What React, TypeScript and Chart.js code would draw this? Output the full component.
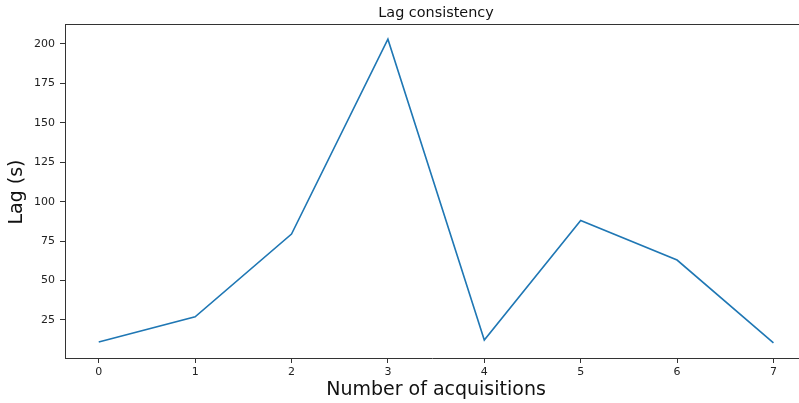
import React, { useEffect, useRef } from "react";
import { Chart, registerables } from "chart.js";

Chart.register(...registerables);

const acquisitions = [0, 1, 2, 3, 4, 5, 6, 7];
const lagSeconds = [11, 27, 79.5, 203, 12.3, 88, 63, 10.5];
const xTicks = [0, 1, 2, 3, 4, 5, 6, 7];
const yTicks = [25, 50, 75, 100, 125, 150, 175, 200];

const TITLE = "Lag consistency";
const X_LABEL = "Number of acquisitions";
const Y_LABEL = "Lag (s)";
const FONT = "'DejaVu Sans', sans-serif";

const textPlugin = {
  id: "mplText",
  afterDraw(chart: any) {
    const { ctx, chartArea } = chart;
    const { left, right, top, bottom } = chartArea;
    ctx.save();
    // keep the right side open like the cropped reference
    ctx.fillStyle = "#fff";
    ctx.fillRect(right - 12, top + 1, 12, bottom - top - 1);
    // top spine
    ctx.strokeStyle = "#333";
    ctx.lineWidth = 1;
    ctx.beginPath();
    ctx.moveTo(left, top + 0.5);
    ctx.lineTo(right, top + 0.5);
    ctx.stroke();

    ctx.fillStyle = "#111";
    ctx.textAlign = "center";
    ctx.textBaseline = "middle";
    ctx.font = `14.4px ${FONT}`;
    ctx.fillText(TITLE, 436, 13);

    ctx.font = `19px ${FONT}`;
    ctx.fillText(X_LABEL, 436, 390);

    ctx.translate(17, 192);
    ctx.rotate(-Math.PI / 2);
    ctx.fillText(Y_LABEL, 0, 0);
    ctx.restore();
  },
};

export default function App() {
  const ref = useRef<HTMLCanvasElement>(null);
  useEffect(() => {
    const canvas = ref.current!;
    const chart = new Chart(canvas, {
      type: "line",
      data: {
        datasets: [
          {
            data: acquisitions.map((x, i) => ({ x, y: lagSeconds[i] })),
            borderColor: "#1f77b4",
            borderWidth: 1.6,
            pointRadius: 0,
            fill: false,
            tension: 0,
          },
        ],
      },
      options: {
        animation: false,
        responsive: false,
        devicePixelRatio: 1,
        layout: { padding: { left: 0, top: 24, right: 0, bottom: 0 } },
        plugins: { legend: { display: false }, title: { display: false }, tooltip: { enabled: false } },
        scales: {
          x: {
            type: "linear",
            min: -0.35,
            max: 7.265,
            afterBuildTicks: (s: any) => {
              s.ticks = xTicks.map((v) => ({ value: v }));
            },
            afterFit: (s: any) => {
              s.height = 45;
            },
            grid: { display: true, drawOnChartArea: false, drawTicks: true, tickLength: 5, tickColor: "#333" },
            border: { display: true, color: "#333", width: 1 },
            ticks: { color: "#222", padding: 3, font: { family: FONT, size: 11 }, maxRotation: 0, autoSkip: false },
          },
          y: {
            type: "linear",
            min: 0.9,
            max: 212.6,
            afterBuildTicks: (s: any) => {
              s.ticks = yTicks.map((v) => ({ value: v }));
            },
            afterFit: (s: any) => {
              s.width = 65;
            },
            grid: { display: true, drawOnChartArea: false, drawTicks: true, tickLength: 5, tickColor: "#333" },
            border: { display: true, color: "#333", width: 1 },
            ticks: { color: "#222", padding: 5, font: { family: FONT, size: 11 }, autoSkip: false },
          },
        },
      },
      plugins: [textPlugin],
    });
    return () => chart.destroy();
  }, []);
  return (
    <div style={{ position: "fixed", left: 0, top: 0, width: 799, height: 403, overflow: "hidden", background: "#fff" }}>
      <canvas ref={ref} width={799} height={403} style={{ width: 799, height: 403, display: "block" }} />
    </div>
  );
}
